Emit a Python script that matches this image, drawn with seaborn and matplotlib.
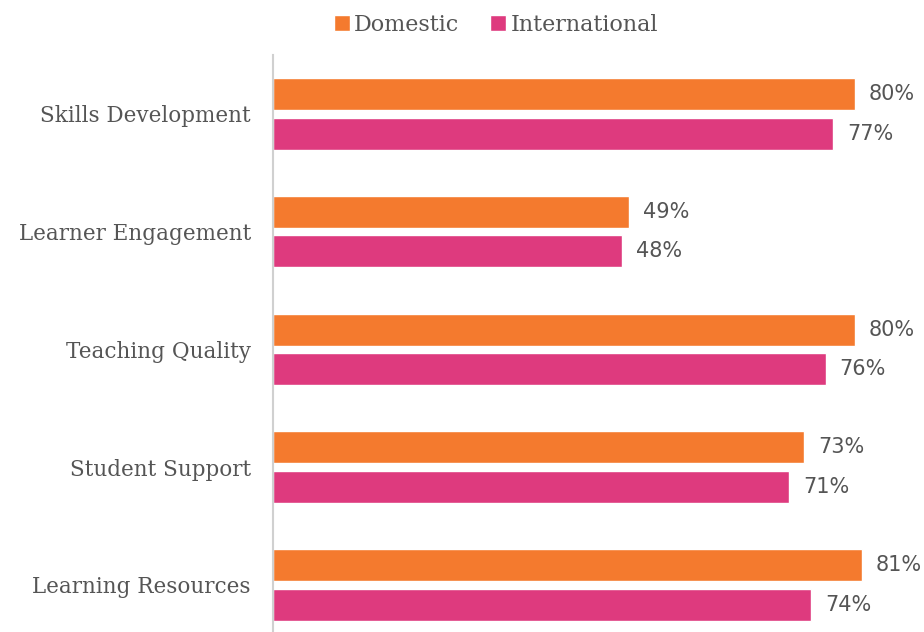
import numpy as np
import pandas as pd
import matplotlib.pyplot as plt
import seaborn as sns

# survey scores by category
categories = ['Skills Development', 'Learner Engagement', 'Teaching Quality',
              'Student Support', 'Learning Resources']
domestic = [80, 49, 80, 73, 81]
international = [77, 48, 76, 71, 74]

df = pd.DataFrame({
    'category': categories * 2,
    'group': ['Domestic'] * 5 + ['International'] * 5,
    'score': domestic + international,
})

sns.set_style('white')
plt.rcParams['font.family'] = ['DejaVu Serif', 'DejaVu Sans']

fig = plt.figure(figsize=(9.24, 6.32), dpi=100)
ax = fig.add_axes([273 / 924, 0, 1 - 273 / 924, 1 - 55 / 632])

sns.barplot(data=df, y='category', x='score', hue='group', orient='h',
            palette=['#f47a2e', '#de3a7e'], width=0.67, gap=0.19,
            saturation=1, ax=ax)

for cont in ax.containers:
    ax.bar_label(cont, labels=[f'{v:.0f}%' for v in cont.datavalues],
                 padding=10, fontsize=15, color='#555555', family='DejaVu Sans',
                 clip_on=False)

ax.set_xlim(0, 89.5)
ax.set_ylim(4.4, -0.5)
ax.set_xlabel('')
ax.set_ylabel('')
ax.set_xticks([])
ax.tick_params(axis='y', length=0, pad=16, labelsize=15.5, labelcolor='#555555')
for s in ['top', 'right', 'bottom']:
    ax.spines[s].set_visible(False)
ax.spines['left'].set_color('#d0d0d0')
ax.spines['left'].set_linewidth(1.5)

ax.legend(loc='center', bbox_to_anchor=(496 / 924, 1 - 25 / 632),
          bbox_transform=fig.transFigure, ncol=2, frameon=False,
          fontsize=16, labelcolor='#555555', handlelength=0.7,
          handleheight=0.7, handletextpad=0.2, columnspacing=1.4)

fig.savefig('out.png', dpi=100)
